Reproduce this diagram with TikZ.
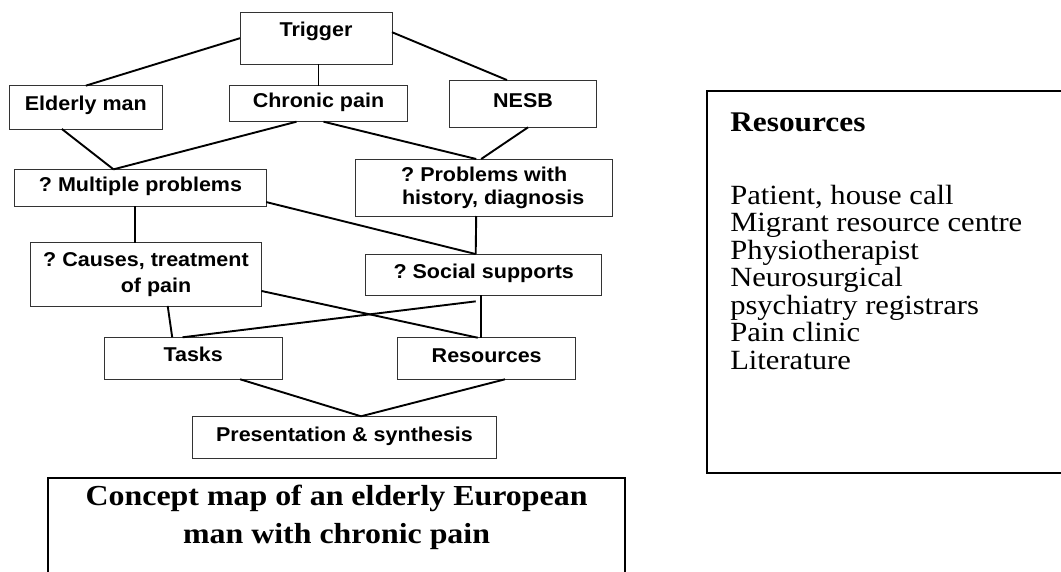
\documentclass[tikz,border=0pt]{standalone}
\usepackage{fontspec}
\setmainfont{Liberation Serif}[FakeStretch=1.1]
\setsansfont{Liberation Sans}[FakeStretch=1.075]
\frenchspacing
\begin{document}
\begin{tikzpicture}[x=1pt, y=-1pt, line width=1.9pt,
  box/.style={draw=black!80, line width=0.9pt, rectangle, inner sep=0pt, outer sep=0pt, align=center,
    font=\sffamily\bfseries\fontsize{20}{23}\selectfont},
  one/.style={box, text height=14.5pt, text depth=7.5pt},
  link/.style={line width=1.9pt}]
  \useasboundingbox (0,0) rectangle (1061,571);
  \node[one, minimum width=152pt, minimum height=51.7pt, text depth=17pt] (trig) at (316,38.2) {Trigger};
  \node[one, minimum width=153pt, minimum height=43.3pt] (elder) at (85.8,107.3) {Elderly man};
  \node[one, minimum width=177.7pt, minimum height=36pt] (chron) at (318.5,103.7) {Chronic pain};
  \node[one, minimum width=147.3pt, minimum height=47.3pt] (nesb) at (523,103.7) {NESB};
  \node[one, minimum width=251.4pt, minimum height=36.7pt] (multi) at (140.5,187.7) {? Multiple problems};
  \node[box, minimum width=257pt, minimum height=57pt, font=\sffamily\bfseries\fontsize{20}{23}\selectfont]
    (hist) at (484.2,187.5) {? Problems with\\\hspace*{0.9em}history, diagnosis};
  \node[box, minimum width=230.8pt, minimum height=63.3pt, font=\sffamily\bfseries\fontsize{20}{26}\selectfont]
    (cause) at (146,274.3) {? Causes, treatment\\\hspace*{1em}of pain};
  \node[one, minimum width=236pt, minimum height=41.3pt] (soc) at (483.7,274.7) {? Social supports};
  \node[one, minimum width=178.4pt, minimum height=42pt] (task) at (193.2,358.3) {Tasks};
  \node[one, minimum width=178pt, minimum height=41.6pt] (reso) at (486.7,358.5) {Resources};
  \node[one, minimum width=304.4pt, minimum height=42.4pt] (pres) at (344.5,437.5) {Presentation \& synthesis};

  \draw[link] (trig.west) -- (elder.north);
  \draw[link] (chron.north |- trig.south) -- (chron.north);
  \draw[link] ([yshift=6pt]trig.east) -- ([xshift=-16pt]nesb.north);
  \draw[link] ([xshift=-24pt]elder.south) -- ([xshift=-27pt]multi.north);
  \draw[link] ([xshift=-22pt]chron.south) -- ([xshift=-27pt]multi.north);
  \draw[link] ([xshift=5pt]chron.south) -- ([xshift=-8pt]hist.north);
  \draw[link] ([xshift=5pt]nesb.south) -- ([xshift=-3pt]hist.north);
  \draw[link] ([xshift=-5.5pt]multi.south) -- ([xshift=-5.5pt]multi.south |- cause.north);
  \draw[link] ([yshift=4pt]multi.south east) -- ([xshift=-8pt]soc.north);
  \draw[link] ([xshift=-8pt]hist.south) -- ([xshift=-8pt]soc.north);
  \draw[link] ([xshift=21.7pt]cause.south) -- ([xshift=-21pt]task.north);
  \draw[link] ([yshift=15pt]cause.south east) -- ([xshift=-9pt]reso.north);
  \draw[link] ([xshift=-8pt,yshift=-6pt]soc.south) -- ([xshift=-10.7pt]task.north);
  \draw[link] ([xshift=-3pt]soc.south) -- ([xshift=-3pt]soc.south |- reso.north);
  \draw[link] ([xshift=47pt]task.south) -- ([xshift=16.5pt]pres.north);
  \draw[link] ([xshift=18.3pt]reso.south) -- ([xshift=16.5pt]pres.north);

  \draw[line width=1.7pt] (48.2,478.3) rectangle (625,600);
  \node[align=center, inner sep=0pt, font=\bfseries\fontsize{29}{38}\selectfont] (cap) at (336.6,517)
    {Concept map of an elderly European\\man with chronic pain};

  \draw[line width=2pt] (707.3,90.7) rectangle (1075,473.3);
  \node[anchor=base west, inner sep=0pt, font=\bfseries\fontsize{28.5}{34}\selectfont] (rhead) at (729.3,131.7) {Resources};
  \foreach \txt [count=\i] in {{Patient, house call}, Migrant resource centre, Physiotherapist,
    Neurosurgical, psychiatry registrars, Pain clinic, Literature}
    \node[anchor=base west, inner sep=0pt, font=\fontsize{27.8}{28}\selectfont] (res\i) at (729.3,176.5+27.55*\i) {\txt};
\end{tikzpicture}
\end{document}
